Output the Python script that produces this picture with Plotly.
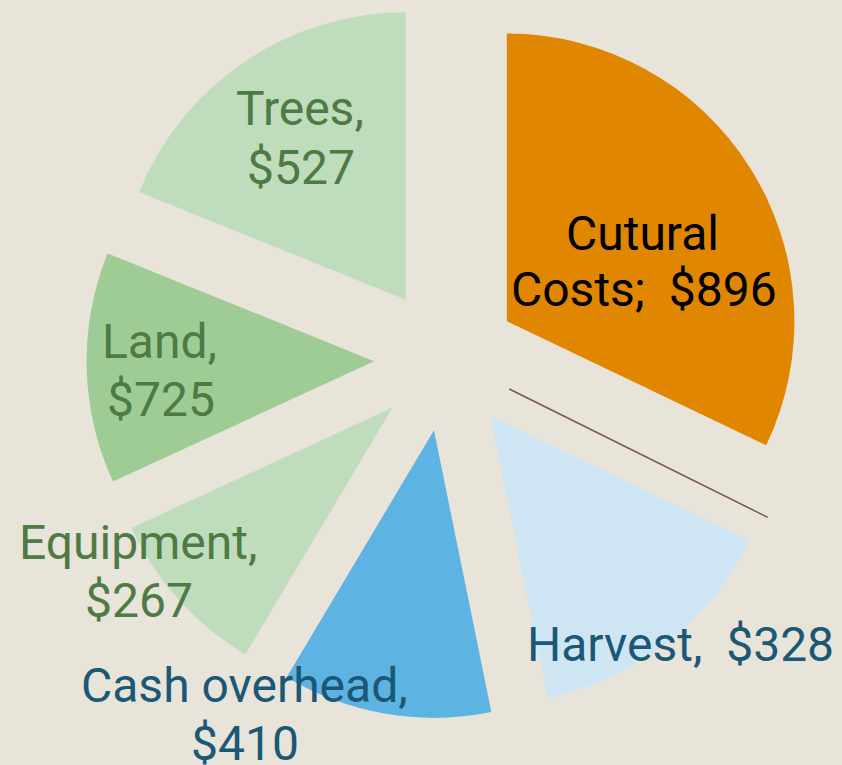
import plotly.graph_objects as go

# Slice categories (clockwise from 12 o'clock)
categories = ["Cutural Costs", "Harvest", "Cash overhead", "Equipment", "Land", "Trees"]
# Slice sizes
slice_values = [896, 410, 328, 267, 362.5, 527]
# Label texts as printed on the chart (one entry per printed line)
label_lines = [["Cutural", "Costs;  $896"], ["Harvest,  $328"], ["Cash overhead,", "$410"],
               ["Equipment,", "$267"], ["Land,", "$725"], ["Trees,", "$527"]]

slice_colors = ["#E08600", "#CEE6F3", "#5DB3E2", "#BFDDBD", "#9ECC94", "#BFDDBD"]
label_colors = ["#000000", "#1A5876", "#1A5876", "#4E7A44", "#4E7A44", "#4E7A44"]
# label line centres in pixels (x, y from top)
label_pos = [[(642, 233), (644, 289)], [(680, 644)], [(244, 685), (245, 743)],
             [(138, 542), (139, 600)], [(159, 341), (161, 399)], [(300, 109), (301, 167)]]

W, H = 842, 765
BG = "#E8E4DA"

fig = go.Figure()
fig.add_trace(go.Pie(
    labels=categories,
    values=slice_values,
    sort=False,
    direction="clockwise",
    rotation=0,
    pull=[0.25] * len(categories),
    marker=dict(colors=slice_colors, line=dict(width=0)),
    textinfo="none",
    hoverinfo="label",
    showlegend=False,
    domain=dict(x=[0.0797, 0.9797], y=[0.0603, 1.0]),
))

for lines, col, positions in zip(label_lines, label_colors, label_pos):
    for txt, (px, py) in zip(lines, positions):
        fig.add_annotation(
            x=px / W, y=1 - py / H, xref="paper", yref="paper",
            text=txt, showarrow=False, xanchor="center", yanchor="middle",
            align="center",
            font=dict(family="Roboto", size=48, color=col),
        )

# thin leader line between Cutural Costs and Harvest
fig.add_shape(type="line", xref="paper", yref="paper",
              x0=509.3 / W, y0=1 - 389 / H, x1=767.7 / W, y1=1 - 517.3 / H,
              line=dict(color="#7A5252", width=1.5))

fig.update_layout(
    width=W, height=H,
    margin=dict(l=0, r=0, t=0, b=0),
    paper_bgcolor=BG, plot_bgcolor=BG,
    showlegend=False,
)

fig.write_html(
    "out.html",
    config={"displayModeBar": False},
    post_script="document.body.style.margin='0';document.body.style.overflow='hidden';"
                "document.body.style.background='%s';" % BG,
)
